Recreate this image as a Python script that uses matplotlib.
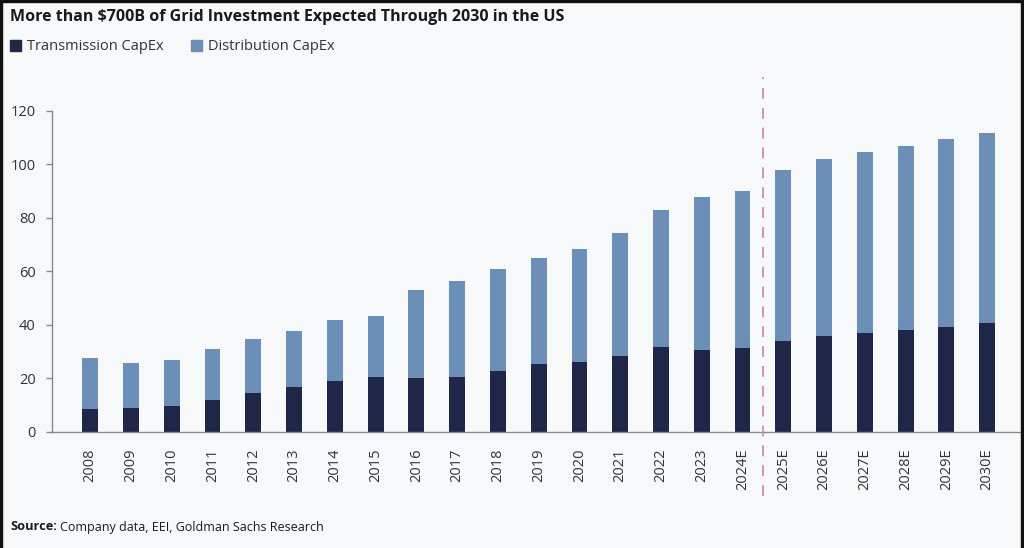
import matplotlib.pyplot as plt
from matplotlib.patches import Patch
import numpy as np

years = ["2008", "2009", "2010", "2011", "2012", "2013", "2014", "2015",
         "2016", "2017", "2018", "2019", "2020", "2021", "2022", "2023",
         "2024E", "2025E", "2026E", "2027E", "2028E", "2029E", "2030E"]

# ($B)
total = [27.7, 25.8, 26.8, 30.8, 34.6, 37.6, 41.7, 43.4, 52.9, 56.3, 60.8,
         64.8, 68.3, 74.4, 82.9, 87.7, 90.0, 97.7, 101.9, 104.4, 106.8,
         109.3, 111.8]
transmission = [8.6, 8.8, 9.7, 11.7, 14.3, 16.6, 19.1, 20.3, 20.2, 20.6,
                22.6, 25.4, 26.1, 28.4, 31.5, 30.4, 31.3, 34.0, 35.9, 37.0,
                38.1, 39.3, 40.5]
distribution = [t - x for t, x in zip(total, transmission)]

TRANS_COL = "#1f2648"
DIST_COL = "#6b8fb6"
BG = "#f7f8fa"
TXT = "#333333"

plt.rcParams['font.family'] = ['Open Sans', 'DejaVu Sans']

fig = plt.figure(figsize=(10.24, 5.48), dpi=100, facecolor=BG)
ax = fig.add_axes([52.3 / 1024, 1 - 431.7 / 548, (1021 - 52.3) / 1024,
                   (431.7 - 110.7) / 548])
ax.set_facecolor(BG)

x = np.arange(len(years))
ax.bar(x, transmission, width=0.39, color=TRANS_COL, zorder=2)
ax.bar(x, distribution, width=0.39, bottom=transmission, color=DIST_COL, zorder=2)

ax.set_ylim(0, 120)
ax.set_xlim(-0.93, len(years) - 1 + 0.83)
ax.set_yticks(range(0, 121, 20))
ax.set_xticks(x)
ax.set_xticklabels(years, rotation=90, fontsize=10.5, color=TXT)
ax.tick_params(axis='x', length=0, pad=12)
ax.tick_params(axis='y', length=4, width=1, color="#888888", labelsize=10.5,
               labelcolor=TXT, pad=8)

for s in ["top", "right"]:
    ax.spines[s].set_visible(False)
for s in ["left", "bottom"]:
    ax.spines[s].set_color("#888888")
    ax.spines[s].set_linewidth(1)

# forecast divider
ax.plot([16.5, 16.5], [-24, 132.7], color="#c98bb5", lw=1.3,
        linestyle=(0, (6, 5)), clip_on=False, zorder=3)

fig.text(10 / 1024, 1 - 17 / 548, "More than $700B of Grid Investment Expected Through 2030 in the US",
         fontsize=11.5, fontweight='bold', color="#1a1a1a", va='center')

handles = [Patch(color=TRANS_COL, label="Transmission CapEx"),
           Patch(color=DIST_COL, label="Distribution CapEx")]
fig.legend(handles=handles, loc='center left', bbox_to_anchor=(10 / 1024, 1 - 47 / 548),
           ncol=2, frameon=False, fontsize=10.5, handlelength=0.75, handleheight=0.75,
           handletextpad=0.4, columnspacing=1.9, labelcolor=TXT, borderpad=0,
           borderaxespad=0)

src = fig.text(10 / 1024, 1 - 527 / 548, "Source:", fontsize=9.2, fontweight='bold',
               color="#1a1a1a", va='center')
fig.canvas.draw()
bb = src.get_window_extent()
fig.text((bb.x1 + 3) / 1024, 1 - 527 / 548, "Company data, EEI, Goldman Sachs Research",
         fontsize=9, color="#1a1a1a", va='center')

# dark frame around the screenshot
for rect in ([0, 0, 2 / 1024, 1], [0, 1 - 2 / 548, 1, 2 / 548], [1021 / 1024, 0, 3 / 1024, 1]):
    fig.patches.append(plt.Rectangle(rect[:2], rect[2], rect[3], transform=fig.transFigure,
                                     color="#111111", zorder=10))

fig.savefig("out.png", dpi=100, facecolor=BG)
